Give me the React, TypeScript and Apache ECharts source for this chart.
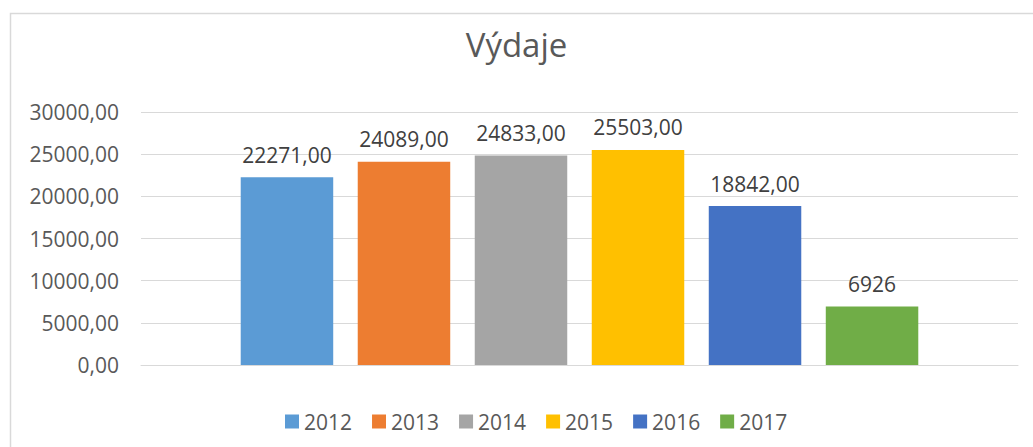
import React, { useEffect, useRef } from "react";
import * as echarts from "echarts";

const years = ["2012", "2013", "2014", "2015", "2016", "2017"];
const values = [22271, 24089, 24833, 25503, 18842, 6926];
const dataLabels = ["22271,00", "24089,00", "24833,00", "25503,00", "18842,00", "6926"];
const colors = ["#5B9BD5", "#ED7D31", "#A5A5A5", "#FFC000", "#4472C4", "#70AD47"];
const titleText = "Výdaje";

const FONT = "'Open Sans', 'Liberation Sans', sans-serif";

export default function App() {
  const ref = useRef<HTMLDivElement>(null);
  useEffect(() => {
    if (!ref.current) return;
    const chart = echarts.init(ref.current, undefined, { renderer: "svg" });
    chart.setOption({
      animation: false,
      backgroundColor: "#ffffff",
      textStyle: { fontFamily: FONT },
      title: {
        text: titleText,
        left: "center",
        top: 23,
        textStyle: { fontSize: 33, fontWeight: "normal", color: "#595959", fontFamily: FONT },
      },
      graphic: [
        {
          type: "rect",
          shape: { x: 10.5, y: 13.5, width: 1100, height: 500 },
          style: { fill: "none", stroke: "#D9D9D9", lineWidth: 1.5 },
          silent: true,
        },
      ],
      legend: {
        top: 406,
        left: 280,
        itemWidth: 14,
        itemHeight: 14,
        itemGap: 20,
        icon: "rect",
        textStyle: { fontSize: 21, color: "#595959", fontFamily: FONT },
        data: years,
      },
      grid: { left: 141, right: 15, top: 112, bottom: 82 },
      xAxis: {
        type: "category",
        data: [titleText],
        axisLabel: { show: false },
        axisTick: { show: false },
        axisLine: { show: true, lineStyle: { color: "#D9D9D9", width: 1 } },
      },
      yAxis: {
        type: "value",
        min: 0,
        max: 30000,
        interval: 5000,
        axisLine: { show: false },
        axisTick: { show: false },
        splitLine: { lineStyle: { color: "#D9D9D9", width: 1 } },
        axisLabel: {
          fontSize: 21,
          color: "#595959",
          margin: 22,
          fontFamily: FONT,
          formatter: (v: number) => v.toFixed(2).replace(".", ","),
        },
      },
      series: years.map((y, i) => ({
        name: y,
        type: "bar",
        data: [values[i]],
        barWidth: 92.5,
        barGap: "26.5%",
        itemStyle: { color: colors[i] },
        label: {
          show: true,
          position: "top",
          distance: 12,
          fontSize: 21,
          color: "#404040",
          fontFamily: FONT,
          formatter: () => dataLabels[i],
        },
      })),
    });
    return () => chart.dispose();
  }, []);
  return (
    <div
      ref={ref}
      style={{ position: "fixed", left: 0, top: 0, width: 1033, height: 447 }}
    />
  );
}
